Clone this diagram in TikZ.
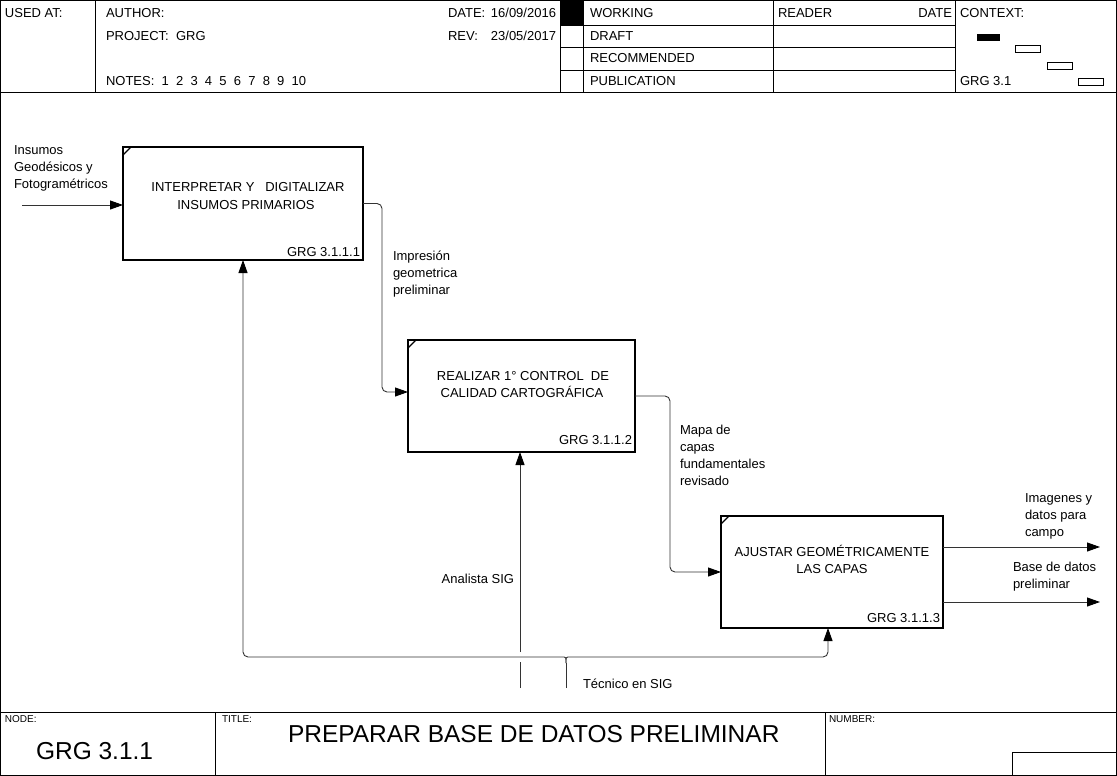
\documentclass[tikz,border=0pt]{standalone}
\usepackage{fontspec}
\setmainfont{Liberation Sans}
\usetikzlibrary{arrows.meta}
\newcommand{\fst}{\rule{0pt}{10pt}}
\begin{document}
\begin{tikzpicture}[x=1pt,y=-1pt,
  every node/.style={inner sep=0pt,outer sep=0pt},
  txt/.style={font=\fontsize{13}{17}\selectfont, anchor=base west},
  txtr/.style={font=\fontsize{13}{17}\selectfont, anchor=base east},
  txtc/.style={font=\fontsize{13}{17}\selectfont, anchor=base},
  lbl/.style={font=\fontsize{13}{17}\selectfont, anchor=north west, align=left},
  small/.style={font=\fontsize{10}{12}\selectfont, anchor=base west},
  big/.style={font=\fontsize{24.5}{28}\selectfont, anchor=base west},
  frame/.style={draw=black, line width=0.8pt},
  procbox/.style={draw=black, line width=1.8pt},
  conn/.style={draw=black!80, line width=0.9pt},
  arr/.style={-{Triangle[length=13pt,width=9pt,color=black]}},
  ctxbox/.style={draw=black, line width=0.8pt},
]
\useasboundingbox (0,0) rectangle (1117,776);
% outer frame
\draw[frame, line width=1.2pt] (0.6,0.6) rectangle (1116.4,775.4);
% header grid
\draw[frame] (0,92) -- (1117,92);
\draw[frame] (95,0) -- (95,92);
\draw[frame] (560,0) -- (560,92);
\draw[frame] (583,0) -- (583,92);
\draw[frame] (773,0) -- (773,92);
\draw[frame] (955,0) -- (955,92);
\draw[frame] (560,25) -- (955,25);
\draw[frame] (560,47) -- (955,47);
\draw[frame] (560,70) -- (955,70);
\fill[black] (560,0.6) rectangle (583,25);
% header text
\node[txt] (usedat) at (5,17.5) {USED AT:};
\node[txt] (author) at (106,17.5) {AUTHOR:};
\node[txt] (project) at (106,40.5) {PROJECT:\ \ GRG};
\node[txt] (notes) at (106,85.5) {NOTES:\ \ 1\ \ 2\ \ 3\ \ 4\ \ 5\ \ 6\ \ 7\ \ 8\ \ 9\ \ 10};
\node[txt] (datek) at (448,17.5) {DATE:};
\node[txtr] (datev) at (556,17.5) {16/09/2016};
\node[txt] (revk) at (448,40.5) {REV:};
\node[txtr] (revv) at (556,40.5) {23/05/2017};
\node[txt] (working) at (590,17.5) {WORKING};
\node[txt] (draft) at (590,40.5) {DRAFT};
\node[txt] (recom) at (590,63) {RECOMMENDED};
\node[txt] (publ) at (590,85.5) {PUBLICATION};
\node[txt] (reader) at (778,17.5) {READER};
\node[txtr] (rdate) at (952,17.5) {DATE};
\node[txt] (context) at (960,17.5) {CONTEXT:};
\node[txt] (ctxid) at (960,85.5) {GRG 3.1};
\fill[black] (977,34) rectangle (1000,41);
\draw[ctxbox] (1015,45) rectangle (1040,52);
\draw[ctxbox] (1047,62) rectangle (1072,69);
\draw[ctxbox] (1078,78) rectangle (1103,85);
% boxes
\node[procbox, minimum width=240pt, minimum height=113pt] (b1) at (243,203.5) {};
\node[procbox, minimum width=227pt, minimum height=112pt] (b2) at (521.5,396) {};
\node[procbox, minimum width=222pt, minimum height=112pt] (b3) at (832,572) {};
\draw[procbox, line width=1.2pt] ([yshift=-8pt]b1.north west) -- ([xshift=8pt]b1.north west);
\draw[procbox, line width=1.2pt] ([yshift=-8pt]b2.north west) -- ([xshift=8pt]b2.north west);
\draw[procbox, line width=1.2pt] ([yshift=-8pt]b3.north west) -- ([xshift=8pt]b3.north west);
\node[txtc] (b1t1) at (248,191.5) {INTERPRETAR Y \ \ DIGITALIZAR};
\node[txtc] (b1t2) at (246,209.5) {INSUMOS PRIMARIOS};
\node[txtr] (b1id) at (360,256.5) {GRG 3.1.1.1};
\node[txtc] (b2t1) at (523,380.5) {REALIZAR 1° CONTROL \ DE};
\node[txtc] (b2t2) at (522,397.5) {CALIDAD CARTOGRÁFICA};
\node[txtr] (b2id) at (632,444.5) {GRG 3.1.1.2};
\node[txtc] (b3t1) at (832,556.5) {AJUSTAR GEOMÉTRICAMENTE};
\node[txtc] (b3t2) at (832,573.5) {LAS CAPAS};
\node[txtr] (b3id) at (940,622.5) {GRG 3.1.1.3};
% coordinates
\coordinate (in0) at (22,205);
\coordinate (o1) at (1100,547);
\coordinate (o2) at (1100,602);
\coordinate (a0) at (520,688);
\coordinate (a1) at (520,662);
\coordinate (a2) at (520,652);
\coordinate (t0) at (566,688);
\coordinate (tj) at (566,663);
% connectors
\draw[conn, arr] (in0) -- (in0 -| b1.west);
\draw[conn, arr, rounded corners=5pt] ([yshift=0pt]b1.east) -- ++(19,0) |- ([yshift=4pt]b2.west);
\draw[conn, arr, rounded corners=5pt] (b2.east) -- ++(35,0) |- (b3.west);
\draw[conn, arr] ([yshift=25pt]b3.east) -- (o1);
\draw[conn, arr] ([yshift=-30pt]b3.east) -- (o2);
\draw[conn] (a0) -- (a1);
\draw[conn, arr] (a2) -- ([xshift=-1.5pt]b2.south);
\draw[conn] (t0) -- (tj);
\draw[conn, arr, rounded corners=5pt] (tj) .. controls (566,657) .. (559,657) -- (243,657) -- (b1.south);
\draw[conn, arr, rounded corners=5pt] (tj) .. controls (566,657) .. (573,657) -- (828,657) -- ([xshift=-4pt]b3.south);
% labels
\node[lbl] (linsumos) at (14,144.7) {\fst Insumos\\Geodésicos y\\Fotogramétricos};
\node[lbl] (limpr) at (393,250.7) {\fst Impresión\\geometrica\\preliminar};
\node[lbl] (lmapa) at (680,424.7) {\fst Mapa de\\capas\\fundamentales\\revisado};
\node[lbl] (limg) at (1025,492.7) {\fst Imagenes y\\datos para\\campo};
\node[lbl] (lbase) at (1013,561.7) {\fst Base de datos\\preliminar};
\node[txtr] (lanal) at (514,583.5) {Analista SIG};
\node[txt] (ltec) at (583,688.5) {Técnico en SIG};
% footer
\draw[frame] (0,712) -- (1117,712);
\draw[frame] (215,712) -- (215,776);
\draw[frame] (825,712) -- (825,776);
\draw[frame] (1012,776) |- (1117,752);
\node[small] (nodek) at (5,722) {NODE:};
\node[small] (titlek) at (222,722) {TITLE:};
\node[small] (numk) at (829,722) {NUMBER:};
\node[big] (nodev) at (36,759) {GRG 3.1.1};
\node[big] (titlev) at (288,742) {PREPARAR BASE DE DATOS PRELIMINAR};
\end{tikzpicture}
\end{document}
